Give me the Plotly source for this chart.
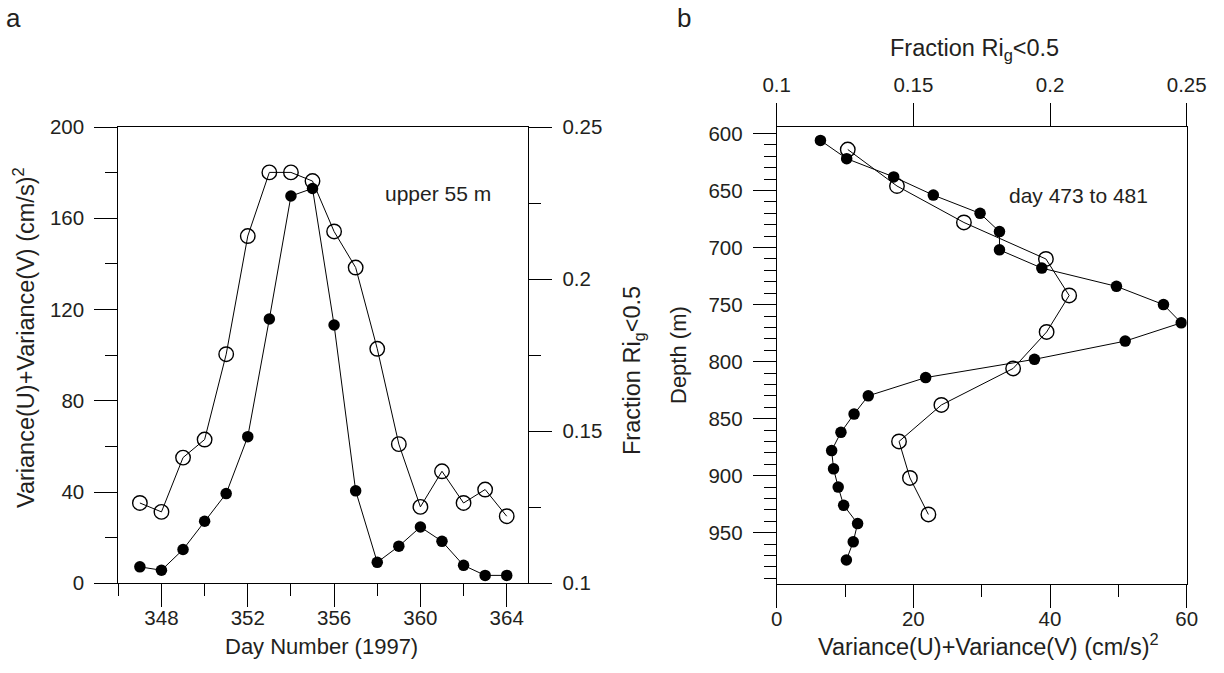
import plotly.graph_objects as go

# ---------------- data ----------------
# Panel a: upper 55 m, days 347-364 (1997)
days = [347, 348, 349, 350, 351, 352, 353, 354, 355, 356, 357, 358, 359, 360, 361, 362, 363, 364]
variance_a = [35.2, 31.3, 55.1, 63.0, 100.4, 152.2, 180.1, 180.1, 176.3, 154.2, 138.4, 102.8,
              61.0, 33.5, 49.1, 35.2, 41.1, 29.4]
fraction_a = [0.1054, 0.1043, 0.1111, 0.1204, 0.1295, 0.1482, 0.1869, 0.2273, 0.2298, 0.1849,
              0.1304, 0.1069, 0.1122, 0.1185, 0.1138, 0.1059, 0.1026, 0.1026]

# Panel b: day 473 to 481 profiles
depth_var_b = [614, 646, 678, 710, 742, 774, 806, 838, 870, 902, 934]
variance_b = [10.4, 17.6, 27.4, 39.4, 42.8, 39.5, 34.6, 24.1, 17.9, 19.5, 22.2]
depth_frac_b = [606, 622, 638, 654, 670, 686, 702, 718, 734, 750, 766, 782,
                798, 814, 830, 846, 862, 878, 894, 910, 926, 942, 958, 974]
fraction_b = [0.116, 0.1256, 0.1428, 0.1573, 0.1744, 0.1815, 0.1815, 0.197, 0.2243, 0.2415,
              0.248, 0.2275, 0.1943, 0.1545, 0.1335, 0.1283, 0.1235, 0.1201, 0.1208, 0.1225,
              0.1245, 0.1296, 0.128, 0.1255]

# tick definitions
day_major = [348, 352, 356, 360, 364]
day_minor = [346, 350, 354, 358, 362]
var_a_major = [0, 40, 80, 120, 160, 200]
var_a_minor = [20, 60, 100, 140, 180]
frac_major = [0.1, 0.15, 0.2, 0.25]
frac_labels = ["0.1", "0.15", "0.2", "0.25"]
frac_minor = [0.125, 0.175, 0.225]
var_b_major = [0, 20, 40, 60]
var_b_minor = [10, 30, 50]
depth_major = [600, 650, 700, 750, 800, 850, 900, 950]
depth_minor = [610, 620, 630, 640, 660, 670, 680, 690, 710, 720, 730, 740, 760, 770, 780, 790,
               810, 820, 830, 840, 860, 870, 880, 890, 910, 920, 930, 940, 960, 970, 980, 990]

W, H = 1224, 673
FONT = "Liberation Sans, Arial, sans-serif"
TXT = "#231f20"
TICKF = dict(family=FONT, size=20.5, color=TXT)

def px_x(p):
    return p / W

def px_y(p):
    return 1 - p / H

ax_dom_a = [px_x(118.3), px_x(528.3)]
ay_dom_a = [px_y(583.3), px_y(127)]
ax_dom_b = [px_x(776.7), px_x(1186.7)]
ay_dom_b = [px_y(584), px_y(126.7)]

fig = go.Figure()

line_style = dict(color="black", width=1)
open_marker = dict(symbol="circle-open", size=14.5, color="black", line=dict(width=1.4, color="black"))
fill_marker = dict(symbol="circle", size=11.5, color="black")

fig.add_trace(go.Scatter(x=days, y=variance_a, mode="lines+markers", line=line_style,
                         marker=open_marker, xaxis="x", yaxis="y", showlegend=False))
fig.add_trace(go.Scatter(x=days, y=fraction_a, mode="lines+markers", line=line_style,
                         marker=fill_marker, xaxis="x", yaxis="y2", showlegend=False))
fig.add_trace(go.Scatter(x=variance_b, y=depth_var_b, mode="lines+markers", line=line_style,
                         marker=open_marker, xaxis="x3", yaxis="y3", showlegend=False))
fig.add_trace(go.Scatter(x=fraction_b, y=depth_frac_b, mode="lines+markers", line=line_style,
                         marker=fill_marker, xaxis="x4", yaxis="y3", showlegend=False))

common = dict(showgrid=False, zeroline=False, showline=True, linecolor="black", linewidth=1,
              ticks="outside", tickcolor="black", tickwidth=1, ticklen=23, tickfont=TICKF,
              automargin=False)

def minor(vals, length=12):
    return dict(tickmode="array", tickvals=vals, ticks="outside", ticklen=length,
                tickcolor="black", tickwidth=1, showgrid=False)

fig.update_layout(
    width=W, height=H,
    margin=dict(l=0, r=0, t=0, b=0),
    paper_bgcolor="white", plot_bgcolor="white",
    xaxis=dict(common, domain=ax_dom_a, range=[346, 365], anchor="y", mirror=True,
               ticklabelstandoff=-7,
               tickmode="array", tickvals=day_major, minor=minor(day_minor)),
    yaxis=dict(common, domain=ay_dom_a, range=[0, 200], anchor="x", ticklabelstandoff=6,
               tickmode="array", tickvals=var_a_major, minor=minor(var_a_minor)),
    yaxis2=dict(common, domain=ay_dom_a, range=[0.1, 0.25], anchor="x", overlaying="y", side="right",
                ticklabelstandoff=6,
                tickmode="array", tickvals=frac_major, ticktext=frac_labels, minor=minor(frac_minor)),
    xaxis3=dict(common, domain=ax_dom_b, range=[0, 60], anchor="y3", ticklabelstandoff=-7,
                tickmode="array", tickvals=var_b_major, minor=minor(var_b_minor)),
    xaxis4=dict(common, domain=ax_dom_b, range=[0.1, 0.25], anchor="y3", overlaying="x3", side="top",
                ticklabelstandoff=3,
                tickmode="array", tickvals=frac_major, ticktext=frac_labels),
    yaxis3=dict(common, domain=ay_dom_b, range=[995, 594], anchor="x3", mirror=True,
                ticklabelstandoff=6,
                tickmode="array", tickvals=depth_major, minor=minor(depth_minor)),
)

def ann(text, x, y, size=23.5, angle=0, xanchor="center", yanchor="middle"):
    fig.add_annotation(text=text, x=px_x(x), y=px_y(y), xref="paper", yref="paper",
                       showarrow=False, textangle=angle, xanchor=xanchor, yanchor=yanchor,
                       font=dict(family=FONT, size=size, color=TXT))

# panel letters
ann("a", 14, 18, size=26)
ann("b", 684, 18, size=26)
# axis titles panel a
ann("Day Number (1997)", 321, 646, size=22)
ann("Variance(U)+Variance(V) (cm/s)<sup>2</sup>", 24, 338, angle=-90)
ann("Fraction Ri<sub>g</sub>&lt;0.5", 633, 371, angle=-90)
ann("upper 55 m", 438, 193, size=21)
# axis titles panel b
ann("Variance(U)+Variance(V) (cm/s)<sup>2</sup>", 988, 645)
ann("Fraction Ri<sub>g</sub>&lt;0.5", 975, 50)
ann("Depth (m)", 678, 355, size=22, angle=-90)
ann("day 473 to 481", 1078, 195, size=21)

fig.write_html("out.html")
